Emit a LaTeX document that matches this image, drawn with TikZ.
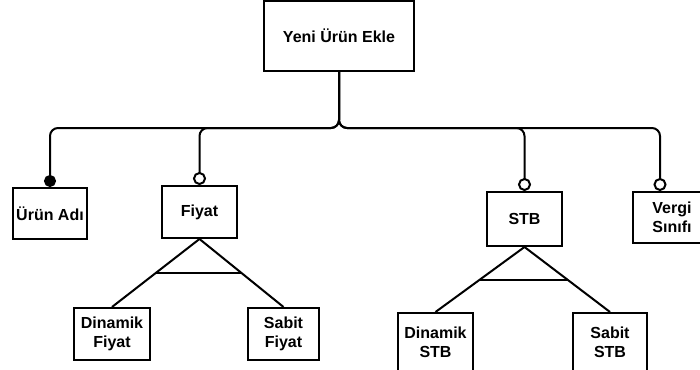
\documentclass[tikz,border=0pt]{standalone}
\usepackage{fontspec}
\setmainfont{Liberation Sans}
\usetikzlibrary{arrows.meta}
\usetikzlibrary{calc}

\begin{document}
\begin{tikzpicture}[x=1pt, y=-1pt,
		feat/.style={draw, line width=2pt, inner sep=0pt, align=center,
			font=\bfseries\fontsize{16}{19}\selectfont},
		conn/.style={line width=2pt, rounded corners=8pt},
		mand/.style={{Circle[length=12pt]}-},
		opt/.style={{Circle[open, length=13pt]}-}]
			\useasboundingbox (0,0) rectangle (700,369);
			\clip (0,0) rectangle (700,369);
			% features
			\node[feat, minimum width=150pt, minimum height=70pt] (root) at (339,36) {Yeni Ürün Ekle};
			\node[feat, minimum width=74pt, minimum height=51pt] (adi) at (50,213.5) {Ürün Adı};
			\node[feat, minimum width=75pt, minimum height=52pt] (fiyat) at (199.5,212) {Fiyat};
			\node[feat, minimum width=75pt, minimum height=54pt] (stb) at (524.5,219) {STB};
			\node[feat, minimum width=78pt, minimum height=51pt] (vergi) at (672,217.5) {Vergi\\Sınıfı};
			\node[feat, minimum width=76pt, minimum height=52pt] (dinf) at (112,334) {Dinamik\\Fiyat};
			\node[feat, minimum width=71pt, minimum height=52pt] (sabf) at (283.5,334) {Sabit\\Fiyat};
			\node[feat, minimum width=75pt, minimum height=58pt] (dins) at (435.5,342) {Dinamik\\STB};
			\node[feat, minimum width=74pt, minimum height=58pt] (sabs) at (610,342) {Sabit\\STB};
			\coordinate (bar) at (339,128);
			% root to children
			\draw[conn, mand] (adi.north) |- (bar) -- (root.south);
			\draw[conn, opt] (fiyat.north) |- (bar) -- (root.south);
			\draw[conn, opt] (stb.north) |- (bar) -- (root.south);
			\draw[conn, opt] ([xshift=28pt]vergi.north west) |- (bar) -- (root.south);
			% alternative groups
			\draw[line width=2pt] (dinf.north) -- (fiyat.south) -- (sabf.north);
			\draw[line width=2pt] ($(fiyat.south)!0.5!(dinf.north)$) -- ($(fiyat.south)!0.5!(sabf.north)$);
			\draw[line width=2pt] (dins.north) -- (stb.south) -- (sabs.north);
			\draw[line width=2pt] ($(stb.south)!0.5!(dins.north)$) -- ($(stb.south)!0.5!(sabs.north)$);
		\end{tikzpicture}
\end{document}
